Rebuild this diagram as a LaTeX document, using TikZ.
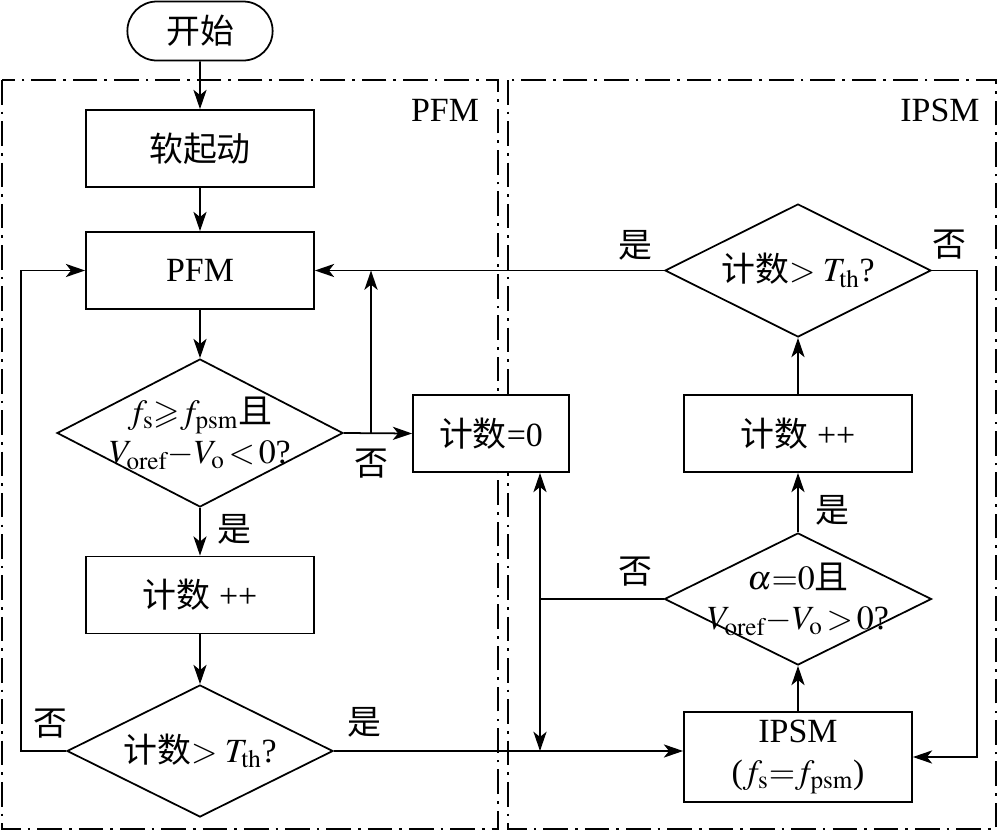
\documentclass[tikz,border=0pt]{standalone}
\usepackage{mathptmx}
\usepackage{amssymb}
\usepackage{fontspec}
\setmainfont{Liberation Serif}
\newfontfamily\cjk{Noto Sans CJK SC}
\usetikzlibrary{shapes.geometric,shapes.misc,arrows.meta}

\def\px{0.02cm}
\tikzset{
  procbox/.style={draw,fill=white,minimum width=228*\px,minimum height=77*\px,inner sep=0pt,align=center},
  decision/.style={draw,fill=white,diamond,inner sep=0pt},
  startbox/.style={draw,fill=white,rounded rectangle,minimum width=157*\px,minimum height=59*\px},
  region/.style={line width=0.8pt,dash pattern=on 14pt off 4pt on 1.5pt off 4pt},
}

\begin{document}
\begin{tikzpicture}[>={Stealth[length=11pt,width=7.5pt,inset=3pt]},line width=1pt,x=\px,y=-\px,
  every node/.style={font=\fontsize{19.3}{21}\selectfont}]
\useasboundingbox (0,0) rectangle (998,832);
\draw[region] (2,80) rectangle (498,829);
\draw[region] (508,80) rectangle (996,829);
\node (pfmlab) at (445,110) {PFM};
\node (ipsmlab) at (940,110) {IPSM};
\node[startbox] (start) at (200,31) {\cjk 开始};
\node[procbox] (soft) at (200,148.5) {\cjk 软起动};
\node[procbox] (pfm) at (200,270.5) {PFM};
\node[decision,minimum width=286*\px,minimum height=148*\px] (d1) at (200,433) {};
\node[align=center] (d1txt) at (d1) {$f_\mathrm{s}{\geqslant}f_\mathrm{psm}${\cjk 且}\\[2pt]$V_\mathrm{oref}{-}V_\mathrm{o}\,{<}\,0$?};
\node[procbox] (cnta) at (200,595) {{\cjk 计数} ++};
\node[decision,minimum width=266*\px,minimum height=132*\px] (d2) at (200,751) {};
\node (d2txt) at (d2) {{\cjk 计数}$>T_\mathrm{th}$?};
\node[procbox,minimum width=156*\px] (zero) at (491,433.5) {{\cjk 计数}=0};
\node[decision,minimum width=266*\px,minimum height=133*\px] (r2) at (798,270.5) {};
\node (r2txt) at (r2) {{\cjk 计数}$>T_\mathrm{th}$?};
\node[procbox] (cntb) at (798,433.5) {{\cjk 计数} ++};
\node[decision,minimum width=267*\px,minimum height=132*\px] (r1) at (798,599) {};
\node[align=center] (r1txt) at (r1) {$\alpha{=}0${\cjk 且}\\[2pt]$V_\mathrm{oref}{-}V_\mathrm{o}\,{>}\,0$?};
\node[procbox,minimum height=90*\px] (ipsm) at (798,757) {IPSM\\[2pt]($f_\mathrm{s}{=}f_\mathrm{psm}$)};
\draw[->] (start) -- (soft);
\draw[->] (soft) -- (pfm);
\draw[->] (pfm) -- (d1);
\draw[->] (d1) -- (cnta);
\draw[->] (cnta) -- (d2);
\draw[->] (d2.west) -- ++(-45,0) |- (pfm.west);
\draw[->] (d2.east) -- (d2.east -| ipsm.west);
\draw[->] (d1.east) -- (zero.west);
\coordinate (j1) at (371,433);
\draw[->] (j1) -- (j1 |- pfm.east);
\draw[->] (r2.west) -- (pfm.east);
\draw[->] (r2.east) -- ++(45,0) |- (ipsm.east);
\draw[->] (cntb) -- (r2);
\draw[->] (r1) -- (cntb);
\draw[->] (ipsm) -- (r1);
\coordinate (k) at (540,599);
\draw (r1.west) -- (k);
\draw[<->] (zero.south -| k) -- (k |- d2.east);
\node (y1) at (234,529) {\cjk 是};
\node (n1) at (371,464) {\cjk 否};
\node (n2) at (50,724) {\cjk 否};
\node (y2) at (364,722) {\cjk 是};
\node (y3) at (635,245) {\cjk 是};
\node (n3) at (949,245) {\cjk 否};
\node (y4) at (832,510) {\cjk 是};
\node (n4) at (635,572) {\cjk 否};
\end{tikzpicture}
\end{document}
